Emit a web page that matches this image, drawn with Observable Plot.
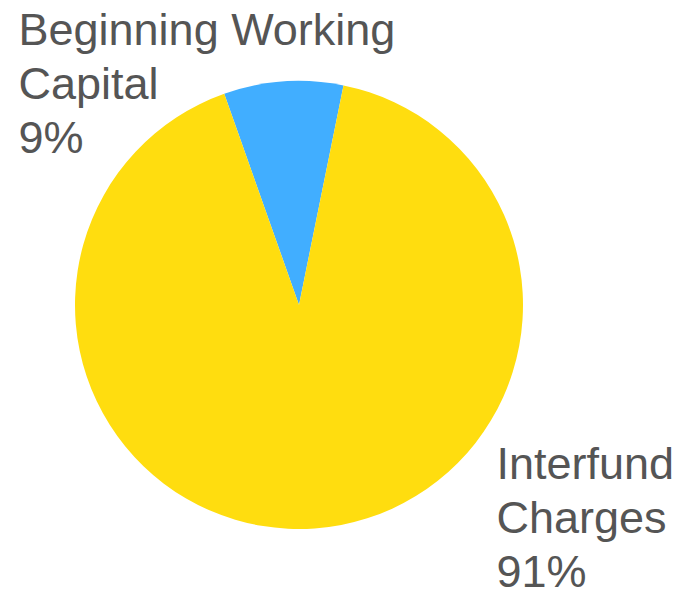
<!DOCTYPE html>
<html>
<head>
<meta charset="utf-8">
<script src="https://cdn.jsdelivr.net/npm/d3@7"></script>
<script src="https://cdn.jsdelivr.net/npm/@observablehq/plot@0.6"></script>
<style>
  html, body { margin: 0; padding: 0; background: #fff; }
  #chart svg { display: block; }
</style>
</head>
<body>
<div id="chart"></div>
<script>
// ---- data ----
const categories = ["Beginning Working Capital", "Interfund Charges"];
const values = [8.6, 91.4];
const percentLabels = ["9%", "91%"];
const labelLines = [["Beginning Working", "Capital"], ["Interfund", "Charges"]];
const colors = ["#41AEFF", "#FFDD0F"];

// ---- layout ----
const W = 682, H = 591;
const pieCenter = [299, 305];
const pieRadius = 224;
const startDeg = -19.5;
const labelPos = [[18, 6], [496, 440]];

const table = categories.map((c, i) => ({
  category: c,
  value: values[i],
  text: [...labelLines[i], percentLabels[i]].join("\n"),
  lx: labelPos[i][0],
  ly: labelPos[i][1]
}));

const pieGen = d3.pie().sort(null).value(d => d.value)
  .startAngle(startDeg * Math.PI / 180)
  .endAngle(startDeg * Math.PI / 180 + 2 * Math.PI);
const arcs = pieGen(table);

function pieMark(index, scales) {
  const g = d3.create("svg:g");
  const cx = scales.x(pieCenter[0]);
  const cy = scales.y(pieCenter[1]);
  const r = Math.abs(scales.x(pieCenter[0] + pieRadius) - cx);
  const arc = d3.arc().innerRadius(0).outerRadius(r);
  g.attr("transform", `translate(${cx},${cy})`);
  g.selectAll("path").data(arcs).join("path")
    .attr("d", arc)
    .attr("fill", d => scales.color(d.data.category));
  return g.node();
}

const chart = Plot.plot({
  width: W,
  height: H,
  margin: 0,
  x: {domain: [0, W], range: [0, W], axis: null},
  y: {domain: [0, H], range: [0, H], axis: null},
  color: {domain: categories, range: colors},
  style: {fontFamily: "'Liberation Sans', Arial, sans-serif", background: "#fff"},
  marks: [
    pieMark,
    Plot.text(table, {
      x: "lx", y: "ly", text: "text",
      textAnchor: "start", lineAnchor: "top",
      lineHeight: 1.2, fontSize: 45, fill: "#555555"
    })
  ]
});
document.getElementById("chart").append(chart);
</script>
</body>
</html>
